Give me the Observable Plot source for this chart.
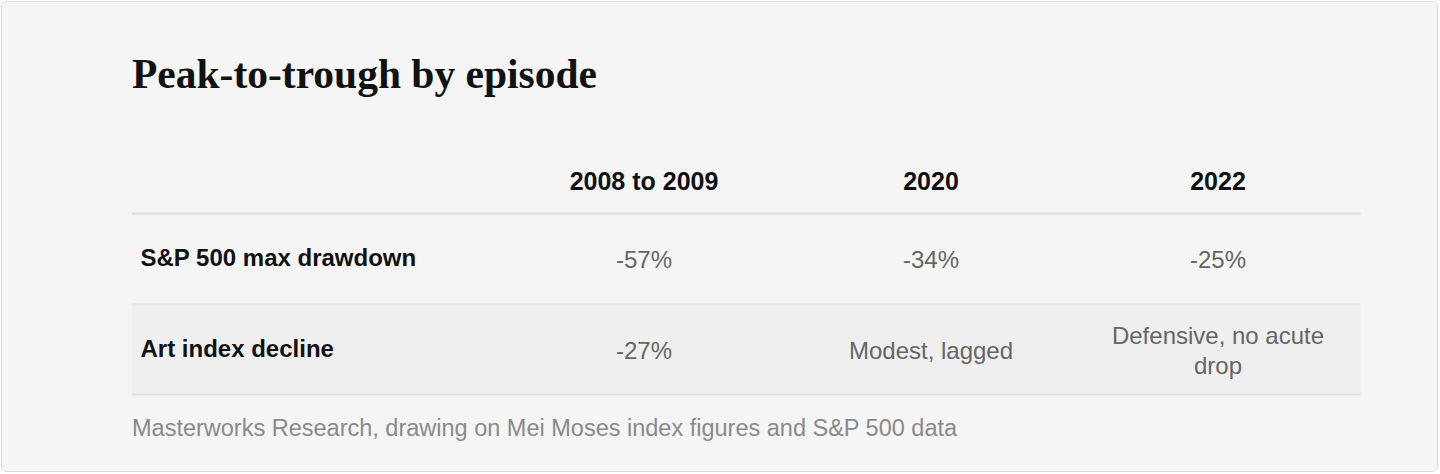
<!DOCTYPE html>
<html>
<head>
<meta charset="utf-8">
<script src="https://cdn.jsdelivr.net/npm/d3@7"></script>
<script src="https://cdn.jsdelivr.net/npm/@observablehq/plot@0.6"></script>
<style>
  html, body { margin: 0; padding: 0; background: #ffffff; width: 1440px; height: 474px; overflow: hidden; }
  #card { position: absolute; left: 1px; top: 1px; width: 1435px; height: 469px; border: 1px solid #dcdcdc; border-radius: 6px; background: #f5f5f5; }
  #title { position: absolute; left: 132px; top: 54px; margin: 0; font-family: "Liberation Serif", "Times New Roman", serif; font-weight: 700; font-size: 41.5px; line-height: 1; color: #111; white-space: nowrap; }
  #chart { position: absolute; left: 0; top: 130px; }
  #caption { position: absolute; left: 132px; top: 417px; margin: 0; font-family: "Liberation Sans", Arial, sans-serif; font-size: 23.5px; line-height: 1; color: #8a8a8a; white-space: nowrap; }
</style>
</head>
<body>
<div id="card"></div>
<h1 id="title">Peak-to-trough by episode</h1>
<div id="chart"></div>
<p id="caption">Masterworks Research, drawing on Mei Moses index figures and S&amp;P 500 data</p>
<script>
const episodes = ["2008 to 2009", "2020", "2022"];
const metrics = ["S&P 500 max drawdown", "Art index decline"];
const sp500Drawdown = ["-57%", "-34%", "-25%"];
const artDecline = ["-27%", "Modest, lagged", "Defensive, no acute drop"];
const shadedRows = [1];
const rowEdges = [0, 1, 2];

const rowValues = [sp500Drawdown, artDecline];
const cells = [];
metrics.forEach((m, r) => {
  episodes.forEach((e, c) => {
    cells.push({metric: m, row: r, episode: e, value: rowValues[r][c]});
  });
});
const labelRows = metrics.map((m, r) => ({metric: m, row: r}));

const chart = Plot.plot({
  width: 1440,
  height: 266,
  marginTop: 83,
  marginBottom: 2,
  marginLeft: 499.5,
  marginRight: 79.5,
  style: {fontFamily: "'Liberation Sans', Arial, sans-serif", background: "transparent", overflow: "visible"},
  x: {type: "band", domain: episodes, padding: 0, axis: null},
  y: {domain: [0, metrics.length], reverse: true, axis: null},
  marks: [
    Plot.rect(shadedRows, {y1: d => d, y2: d => d + 1, fill: "#efefef", insetLeft: -367.5}),
    Plot.ruleY([rowEdges[1]], {stroke: "#e6e6e6", strokeWidth: 1, insetLeft: -367.5}),
    Plot.ruleY([rowEdges[2]], {stroke: "#e0e0e0", strokeWidth: 1.5, insetLeft: -367.5}),
    Plot.ruleY([rowEdges[0]], {stroke: "#dddddd", strokeWidth: 2, insetLeft: -367.5}),
    Plot.text(episodes, {x: d => d, frameAnchor: "top", lineAnchor: "middle", dy: -32, text: d => d, fontSize: 25, fontWeight: "bold", fill: "#111"}),
    Plot.text(labelRows, {y: d => d.row + 0.5, text: "metric", frameAnchor: "left", dx: -359.5, textAnchor: "start", fontSize: 24, fontWeight: "bold", fill: "#111"}),
    Plot.text(cells, {x: "episode", y: d => d.row + 0.5, text: "value", fontSize: 24, fill: "#666", lineWidth: 10, lineHeight: 1.25})
  ]
});
document.getElementById("chart").appendChild(chart);
</script>
</body>
</html>
